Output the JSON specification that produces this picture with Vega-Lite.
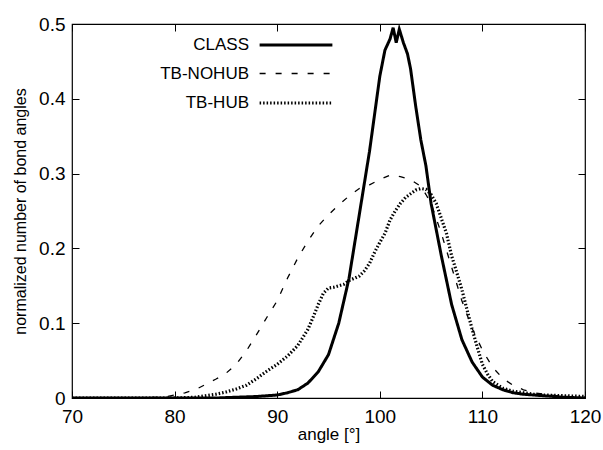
{
  "$schema": "https://vega.github.io/schema/vega-lite/v6.json",
  "width": 513,
  "height": 374,
  "autosize": "none",
  "padding": {"left": 72, "top": 24, "right": 18, "bottom": 52},
  "background": "white",
  "config": {
    "font": "Liberation Sans",
    "view": {"stroke": "black", "strokeWidth": 1.2}
  },
  "datasets": {
    "curves": [
      {"angle": 70, "value": 0, "series": "CLASS"},
      {"angle": 75, "value": 0, "series": "CLASS"},
      {"angle": 80, "value": 0, "series": "CLASS"},
      {"angle": 84, "value": 0, "series": "CLASS"},
      {"angle": 86, "value": 0.001, "series": "CLASS"},
      {"angle": 88, "value": 0.002, "series": "CLASS"},
      {"angle": 90, "value": 0.004, "series": "CLASS"},
      {"angle": 91, "value": 0.007, "series": "CLASS"},
      {"angle": 92, "value": 0.011, "series": "CLASS"},
      {"angle": 93, "value": 0.02, "series": "CLASS"},
      {"angle": 94, "value": 0.035, "series": "CLASS"},
      {"angle": 95, "value": 0.058, "series": "CLASS"},
      {"angle": 96, "value": 0.1, "series": "CLASS"},
      {"angle": 97, "value": 0.16, "series": "CLASS"},
      {"angle": 98, "value": 0.245, "series": "CLASS"},
      {"angle": 99, "value": 0.33, "series": "CLASS"},
      {"angle": 100, "value": 0.43, "series": "CLASS"},
      {"angle": 100.5, "value": 0.465, "series": "CLASS"},
      {"angle": 101, "value": 0.48, "series": "CLASS"},
      {"angle": 101.3, "value": 0.495, "series": "CLASS"},
      {"angle": 101.6, "value": 0.475, "series": "CLASS"},
      {"angle": 101.9, "value": 0.493, "series": "CLASS"},
      {"angle": 102.3, "value": 0.475, "series": "CLASS"},
      {"angle": 102.7, "value": 0.46, "series": "CLASS"},
      {"angle": 103, "value": 0.44, "series": "CLASS"},
      {"angle": 103.5, "value": 0.39, "series": "CLASS"},
      {"angle": 104, "value": 0.345, "series": "CLASS"},
      {"angle": 104.5, "value": 0.31, "series": "CLASS"},
      {"angle": 105, "value": 0.26, "series": "CLASS"},
      {"angle": 106, "value": 0.19, "series": "CLASS"},
      {"angle": 107, "value": 0.125, "series": "CLASS"},
      {"angle": 108, "value": 0.078, "series": "CLASS"},
      {"angle": 109, "value": 0.048, "series": "CLASS"},
      {"angle": 110, "value": 0.028, "series": "CLASS"},
      {"angle": 111, "value": 0.017, "series": "CLASS"},
      {"angle": 112, "value": 0.011, "series": "CLASS"},
      {"angle": 113, "value": 0.007, "series": "CLASS"},
      {"angle": 114, "value": 0.005, "series": "CLASS"},
      {"angle": 116, "value": 0.003, "series": "CLASS"},
      {"angle": 118, "value": 0.001, "series": "CLASS"},
      {"angle": 120, "value": 0, "series": "CLASS"},

      {"angle": 70, "value": 0, "series": "TB-NOHUB"},
      {"angle": 75, "value": 0, "series": "TB-NOHUB"},
      {"angle": 79, "value": 0.001, "series": "TB-NOHUB"},
      {"angle": 80, "value": 0.004, "series": "TB-NOHUB"},
      {"angle": 81, "value": 0.007, "series": "TB-NOHUB"},
      {"angle": 82, "value": 0.011, "series": "TB-NOHUB"},
      {"angle": 83, "value": 0.018, "series": "TB-NOHUB"},
      {"angle": 84, "value": 0.025, "series": "TB-NOHUB"},
      {"angle": 85, "value": 0.033, "series": "TB-NOHUB"},
      {"angle": 86, "value": 0.045, "series": "TB-NOHUB"},
      {"angle": 87, "value": 0.063, "series": "TB-NOHUB"},
      {"angle": 88, "value": 0.085, "series": "TB-NOHUB"},
      {"angle": 89, "value": 0.108, "series": "TB-NOHUB"},
      {"angle": 90, "value": 0.13, "series": "TB-NOHUB"},
      {"angle": 91, "value": 0.16, "series": "TB-NOHUB"},
      {"angle": 92, "value": 0.187, "series": "TB-NOHUB"},
      {"angle": 93, "value": 0.21, "series": "TB-NOHUB"},
      {"angle": 94, "value": 0.23, "series": "TB-NOHUB"},
      {"angle": 95, "value": 0.245, "series": "TB-NOHUB"},
      {"angle": 96, "value": 0.258, "series": "TB-NOHUB"},
      {"angle": 97, "value": 0.27, "series": "TB-NOHUB"},
      {"angle": 98, "value": 0.28, "series": "TB-NOHUB"},
      {"angle": 99, "value": 0.285, "series": "TB-NOHUB"},
      {"angle": 100, "value": 0.292, "series": "TB-NOHUB"},
      {"angle": 101, "value": 0.298, "series": "TB-NOHUB"},
      {"angle": 102, "value": 0.296, "series": "TB-NOHUB"},
      {"angle": 103, "value": 0.292, "series": "TB-NOHUB"},
      {"angle": 104, "value": 0.283, "series": "TB-NOHUB"},
      {"angle": 104.5, "value": 0.272, "series": "TB-NOHUB"},
      {"angle": 105, "value": 0.26, "series": "TB-NOHUB"},
      {"angle": 106, "value": 0.22, "series": "TB-NOHUB"},
      {"angle": 107, "value": 0.175, "series": "TB-NOHUB"},
      {"angle": 108, "value": 0.13, "series": "TB-NOHUB"},
      {"angle": 109, "value": 0.093, "series": "TB-NOHUB"},
      {"angle": 110, "value": 0.064, "series": "TB-NOHUB"},
      {"angle": 111, "value": 0.041, "series": "TB-NOHUB"},
      {"angle": 112, "value": 0.026, "series": "TB-NOHUB"},
      {"angle": 113, "value": 0.017, "series": "TB-NOHUB"},
      {"angle": 114, "value": 0.011, "series": "TB-NOHUB"},
      {"angle": 115, "value": 0.007, "series": "TB-NOHUB"},
      {"angle": 116, "value": 0.005, "series": "TB-NOHUB"},
      {"angle": 118, "value": 0.002, "series": "TB-NOHUB"},
      {"angle": 120, "value": 0.001, "series": "TB-NOHUB"},

      {"angle": 70, "value": 0, "series": "TB-HUB"},
      {"angle": 75, "value": 0, "series": "TB-HUB"},
      {"angle": 80, "value": 0, "series": "TB-HUB"},
      {"angle": 82, "value": 0.001, "series": "TB-HUB"},
      {"angle": 83, "value": 0.003, "series": "TB-HUB"},
      {"angle": 84, "value": 0.005, "series": "TB-HUB"},
      {"angle": 85, "value": 0.008, "series": "TB-HUB"},
      {"angle": 86, "value": 0.012, "series": "TB-HUB"},
      {"angle": 87, "value": 0.017, "series": "TB-HUB"},
      {"angle": 88, "value": 0.026, "series": "TB-HUB"},
      {"angle": 89, "value": 0.036, "series": "TB-HUB"},
      {"angle": 90, "value": 0.045, "series": "TB-HUB"},
      {"angle": 91, "value": 0.056, "series": "TB-HUB"},
      {"angle": 92, "value": 0.07, "series": "TB-HUB"},
      {"angle": 93, "value": 0.092, "series": "TB-HUB"},
      {"angle": 93.5, "value": 0.108, "series": "TB-HUB"},
      {"angle": 94, "value": 0.125, "series": "TB-HUB"},
      {"angle": 94.5, "value": 0.14, "series": "TB-HUB"},
      {"angle": 95, "value": 0.147, "series": "TB-HUB"},
      {"angle": 95.5, "value": 0.148, "series": "TB-HUB"},
      {"angle": 96, "value": 0.15, "series": "TB-HUB"},
      {"angle": 96.5, "value": 0.152, "series": "TB-HUB"},
      {"angle": 97, "value": 0.157, "series": "TB-HUB"},
      {"angle": 98, "value": 0.163, "series": "TB-HUB"},
      {"angle": 98.5, "value": 0.17, "series": "TB-HUB"},
      {"angle": 99, "value": 0.18, "series": "TB-HUB"},
      {"angle": 99.5, "value": 0.195, "series": "TB-HUB"},
      {"angle": 100, "value": 0.208, "series": "TB-HUB"},
      {"angle": 100.5, "value": 0.22, "series": "TB-HUB"},
      {"angle": 101, "value": 0.238, "series": "TB-HUB"},
      {"angle": 101.5, "value": 0.25, "series": "TB-HUB"},
      {"angle": 102, "value": 0.26, "series": "TB-HUB"},
      {"angle": 102.5, "value": 0.268, "series": "TB-HUB"},
      {"angle": 103, "value": 0.273, "series": "TB-HUB"},
      {"angle": 103.5, "value": 0.278, "series": "TB-HUB"},
      {"angle": 104, "value": 0.28, "series": "TB-HUB"},
      {"angle": 104.5, "value": 0.279, "series": "TB-HUB"},
      {"angle": 105, "value": 0.272, "series": "TB-HUB"},
      {"angle": 105.5, "value": 0.26, "series": "TB-HUB"},
      {"angle": 106, "value": 0.24, "series": "TB-HUB"},
      {"angle": 106.5, "value": 0.22, "series": "TB-HUB"},
      {"angle": 107, "value": 0.19, "series": "TB-HUB"},
      {"angle": 107.5, "value": 0.168, "series": "TB-HUB"},
      {"angle": 108, "value": 0.145, "series": "TB-HUB"},
      {"angle": 108.5, "value": 0.118, "series": "TB-HUB"},
      {"angle": 109, "value": 0.092, "series": "TB-HUB"},
      {"angle": 109.5, "value": 0.068, "series": "TB-HUB"},
      {"angle": 110, "value": 0.045, "series": "TB-HUB"},
      {"angle": 110.5, "value": 0.032, "series": "TB-HUB"},
      {"angle": 111, "value": 0.022, "series": "TB-HUB"},
      {"angle": 112, "value": 0.013, "series": "TB-HUB"},
      {"angle": 113, "value": 0.009, "series": "TB-HUB"},
      {"angle": 114, "value": 0.007, "series": "TB-HUB"},
      {"angle": 115, "value": 0.005, "series": "TB-HUB"},
      {"angle": 116, "value": 0.004, "series": "TB-HUB"},
      {"angle": 118, "value": 0.003, "series": "TB-HUB"},
      {"angle": 120, "value": 0.002, "series": "TB-HUB"}
    ]
  },
  "data": {"name": "curves"},
  "layer": [
    {
      "mark": {"type": "line", "color": "black", "clip": true},
      "encoding": {
        "x": {"field": "angle", "type": "quantitative", "scale": {"domain": [70, 120], "nice": false},
              "axis": {"orient": "bottom", "values": [70, 80, 90, 100, 110, 120], "title": "angle [°]",
                       "domain": false, "grid": false, "tickColor": "black", "tickSize": -7,
                       "labelColor": "black", "titleColor": "black", "labelFont": "Liberation Sans", "titleFont": "Liberation Sans",
                       "labelFontSize": 19, "titleFontSize": 17, "titleFontWeight": "normal",
                       "labelPadding": 16, "titlePadding": 0, "labelFlush": false}},
        "y": {"field": "value", "type": "quantitative", "scale": {"domain": [0, 0.5], "nice": false},
              "axis": {"orient": "left", "values": [0, 0.1, 0.2, 0.3, 0.4, 0.5], "format": ".1~f", "title": "normalized number of bond angles",
                       "domain": false, "grid": false, "tickColor": "black", "tickSize": -7,
                       "labelColor": "black", "titleColor": "black", "labelFont": "Liberation Sans", "titleFont": "Liberation Sans",
                       "labelFontSize": 19, "titleFontSize": 16, "titleFontWeight": "normal",
                       "labelPadding": 14, "titlePadding": 10, "labelFlush": false}},
        "strokeDash": {"field": "series", "type": "nominal",
          "scale": {"domain": ["CLASS", "TB-NOHUB", "TB-HUB"], "range": [[1, 0], [6, 10], [1.5, 2]]},
          "legend": {"title": null, "orient": "none", "legendX": 213, "legendY": 10, "symbolType": "M-4,0H4", "symbolSize": 331,
                     "symbolStrokeColor": "black", "symbolStrokeWidth": 3, "rowPadding": 10.5, "labelOffset": -58, "labelAlign": "right",
                     "labelFont": "Liberation Sans", "labelFontSize": 17, "labelColor": "black"}},
        "strokeWidth": {"field": "series", "type": "nominal",
          "scale": {"type": "ordinal", "domain": ["CLASS", "TB-NOHUB", "TB-HUB"], "range": [3, 1.3, 3.2]},
          "legend": null}
      }
    },
    {
      "mark": {"type": "line", "opacity": 0},
      "encoding": {
        "x": {"field": "angle", "type": "quantitative", "scale": {"domain": [70, 120], "nice": false},
              "axis": {"orient": "top", "values": [70, 80, 90, 100, 110, 120], "labels": false, "title": null,
                       "domain": false, "grid": false, "tickColor": "black", "tickSize": -7}},
        "y": {"field": "value", "type": "quantitative", "scale": {"domain": [0, 0.5], "nice": false},
              "axis": {"orient": "right", "values": [0, 0.1, 0.2, 0.3, 0.4, 0.5], "labels": false, "title": null,
                       "domain": false, "grid": false, "tickColor": "black", "tickSize": -7}}
      }
    }
  ],
  "resolve": {"axis": {"x": "independent", "y": "independent"}}
}
